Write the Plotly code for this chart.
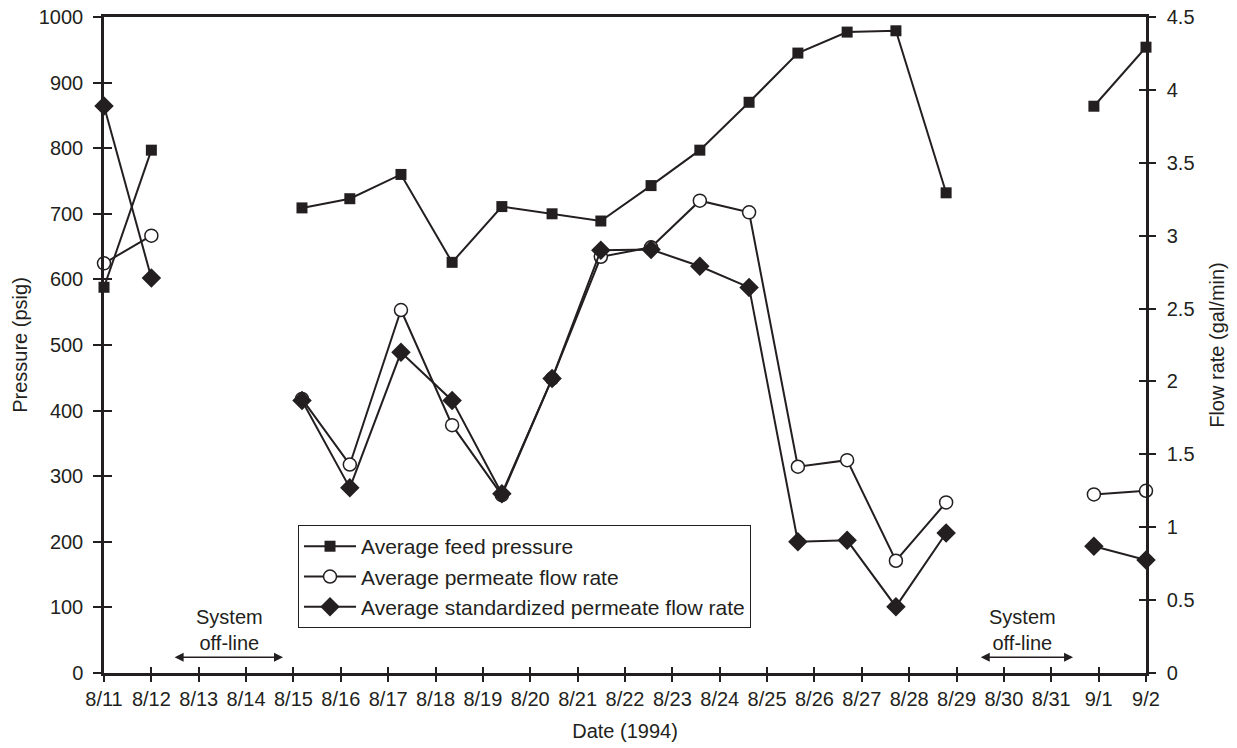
import plotly.graph_objects as go

# ---- data ----
tick_labels = ["8/11", "8/12", "8/13", "8/14", "8/15", "8/16", "8/17", "8/18", "8/19",
               "8/20", "8/21", "8/22", "8/23", "8/24", "8/25", "8/26", "8/27", "8/28",
               "8/29", "8/30", "8/31", "9/1", "9/2"]
tick_days = list(range(len(tick_labels)))

# sample times, in days after 8/11 (None = system off-line gap)
sample_days = [0.0, 1.0, None,
               4.18, 5.19, 6.27, 7.35, 8.40, 9.46, 10.49, 11.55, 12.58, 13.62, 14.65, 15.69, 16.72, 17.78,
               None, 20.90, 22.0]

feed_pressure = [588, 797, None,
                 709, 723, 760, 626, 711, 700, 689, 743, 797, 870, 945, 977, 979, 732,
                 None, 864, 954]

permeate_flow = [2.81, 3.00, None,
                 1.88, 1.43, 2.49, 1.70, 1.22, 2.02, 2.855, 2.92, 3.24, 3.16, 1.415, 1.46, 0.77, 1.17,
                 None, 1.225, 1.25]

std_permeate_flow = [3.89, 2.71, None,
                     1.87, 1.27, 2.20, 1.87, 1.23, 2.02, 2.90, 2.905, 2.79, 2.645, 0.90, 0.91, 0.455, 0.96,
                     None, 0.87, 0.775]

offline_text_days = [2.66, 19.4]
offline_arrow_start = [1.46, 18.48]
offline_arrow_end = [3.78, 20.46]

INK = "#231f20"
FONT = "Liberation Sans, Arial, Helvetica, sans-serif"
FS = 20

fig = go.Figure()

fig.add_trace(go.Scatter(
    x=sample_days, y=feed_pressure, name="Average feed pressure",
    mode="lines+markers", yaxis="y", cliponaxis=False, connectgaps=False,
    line=dict(color=INK, width=2),
    marker=dict(symbol="square", size=11, color=INK, line=dict(width=0)),
))
fig.add_trace(go.Scatter(
    x=sample_days, y=permeate_flow, name="Average permeate flow rate",
    mode="lines+markers", yaxis="y2", cliponaxis=False, connectgaps=False,
    line=dict(color=INK, width=2),
    marker=dict(symbol="circle", size=13, color="white", line=dict(color=INK, width=1.5)),
))
fig.add_trace(go.Scatter(
    x=sample_days, y=std_permeate_flow, name="Average standardized permeate flow rate",
    mode="lines+markers", yaxis="y2", cliponaxis=False, connectgaps=False,
    line=dict(color=INK, width=2),
    marker=dict(symbol="diamond", size=15, color=INK, line=dict(width=0)),
))

# dummy traces so the overlay axes (inner ticks, top frame line) are drawn
fig.add_trace(go.Scatter(x=[None], y=[None], xaxis="x2", yaxis="y3", showlegend=False, hoverinfo="skip"))
fig.add_trace(go.Scatter(x=[None], y=[None], xaxis="x2", yaxis="y4", showlegend=False, hoverinfo="skip"))
fig.add_trace(go.Scatter(x=[None], y=[None], xaxis="x3", yaxis="y", showlegend=False, hoverinfo="skip"))

axis_common = dict(showgrid=False, zeroline=False, color=INK, tickcolor=INK, automargin=False,
                   ticklabeloverflow="allow",
                   tickfont=dict(family=FONT, size=FS, color=INK))
inner_common = dict(showticklabels=False, showline=False, showgrid=False, zeroline=False,
                    tickcolor=INK, automargin=False, tickwidth=1.5, ticks="inside")

fig.update_layout(
    width=1237, height=748,
    margin=dict(l=104, r=91, t=17, b=75, autoexpand=False),
    paper_bgcolor="white", plot_bgcolor="white",
    font=dict(family=FONT, size=FS, color=INK),
    xaxis=dict(range=[0, 22], tickmode="array", tickvals=tick_days, ticktext=tick_labels,
               ticks="outside", ticklen=6, tickwidth=1.5,
               showline=True, linecolor=INK, linewidth=2.5, mirror=True,
               title=dict(text="Date (1994)", font=dict(family=FONT, size=FS), standoff=16),
               **axis_common),
    xaxis2=dict(range=[0, 22], overlaying="x", anchor="y", side="bottom",
                tickmode="array", tickvals=tick_days, ticklen=6, **inner_common),
    xaxis3=dict(range=[0, 22], overlaying="x", anchor="y", side="top",
                showline=True, linecolor=INK, linewidth=2.5, ticks="",
                showticklabels=False, showgrid=False, zeroline=False, automargin=False),
    yaxis=dict(range=[0, 1000], dtick=100, ticks="outside", ticklen=8, tickwidth=1.5,
               showline=True, linecolor=INK, linewidth=2.5, ticklabelstandoff=6,
               title=dict(text="Pressure (psig)", font=dict(family=FONT, size=FS), standoff=6),
               **axis_common),
    yaxis2=dict(range=[0, 4.5], dtick=0.5, overlaying="y", side="right", anchor="x",
                ticks="outside", ticklen=7, tickwidth=1.5,
                showline=True, linecolor=INK, linewidth=2.5, ticklabelstandoff=7,
                title=dict(text="Flow rate (gal/min)", font=dict(family=FONT, size=FS), standoff=17),
                **axis_common),
    yaxis3=dict(range=[0, 1000], dtick=100, overlaying="y", side="left", anchor="x2",
                ticklen=8, **inner_common),
    yaxis4=dict(range=[0, 4.5], dtick=0.5, overlaying="y", side="right", anchor="x2",
                ticklen=7, **inner_common),
    legend=dict(x=0.1862, y=0.2255, xanchor="left", yanchor="top",
                bordercolor=INK, borderwidth=1, bgcolor="white", itemwidth=52,
                font=dict(family=FONT, size=21, color=INK), tracegroupgap=0),
    showlegend=True,
)

for i in range(len(offline_text_days)):
    fig.add_annotation(x=offline_text_days[i], y=66, xref="x", yref="y",
                       text="System<br>off-line", showarrow=False,
                       font=dict(family=FONT, size=FS, color=INK), align="center")
    fig.add_annotation(x=offline_arrow_end[i], y=24, ax=offline_arrow_start[i], ay=24,
                       xref="x", yref="y", axref="x", ayref="y", text="",
                       showarrow=True, arrowhead=2, arrowside="end+start",
                       arrowsize=1.2, arrowwidth=1.5, arrowcolor=INK)

# remove the browser's default 8px page margin so the figure fills the window exactly
fig.write_html("out.html", config={"displayModeBar": False},
               post_script="document.body.style.margin='0';")
